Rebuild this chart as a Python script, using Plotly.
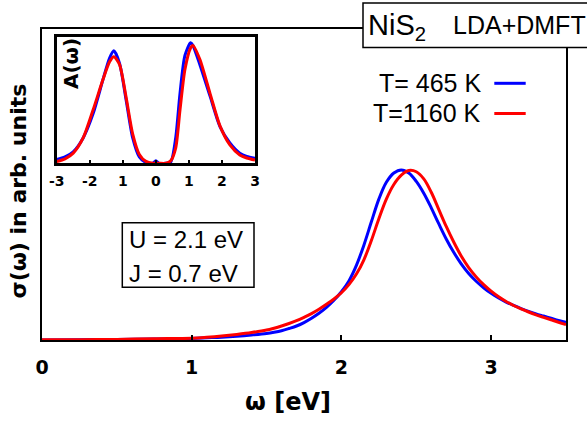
import plotly.graph_objects as go

# ---- main panel data: optical conductivity sigma(omega), arb. units ----
omega = [0.0, 0.25, 0.5, 0.75, 1.0, 1.1, 1.2, 1.3, 1.4,
         1.5, 1.55, 1.6, 1.65, 1.7, 1.75, 1.8, 1.85, 1.9, 1.95,
         2.0, 2.05, 2.1, 2.15, 2.2, 2.25, 2.3, 2.35, 2.4, 2.45,
         2.5, 2.55, 2.6, 2.65, 2.7, 2.75, 2.8, 2.85, 2.9, 2.95,
         3.0, 3.05, 3.1, 3.15, 3.2, 3.25, 3.3, 3.35, 3.4, 3.45, 3.5]
sigma_465 = [0.0, 0.001, 0.002, 0.003, 0.005, 0.007, 0.009, 0.012, 0.016,
             0.021, 0.025, 0.03, 0.037, 0.045, 0.056, 0.07, 0.086, 0.105, 0.128,
             0.155, 0.19, 0.24, 0.305, 0.38, 0.453, 0.507, 0.537, 0.547, 0.537,
             0.51, 0.472, 0.425, 0.374, 0.325, 0.282, 0.245, 0.214, 0.189, 0.168,
             0.15, 0.135, 0.122, 0.111, 0.101, 0.092, 0.084, 0.077, 0.07, 0.063, 0.057]
sigma_1160 = [0.001, 0.001, 0.002, 0.004, 0.006, 0.009, 0.013, 0.018, 0.024,
              0.032, 0.038, 0.045, 0.053, 0.062, 0.073, 0.085, 0.099, 0.115, 0.132,
              0.152, 0.178, 0.212, 0.258, 0.32, 0.39, 0.453, 0.5, 0.53, 0.545,
              0.541, 0.518, 0.475, 0.42, 0.365, 0.315, 0.27, 0.233, 0.203, 0.178,
              0.157, 0.139, 0.124, 0.111, 0.1, 0.09, 0.081, 0.073, 0.065, 0.057, 0.05]
main_ticks = [0, 1, 2, 3]

# ---- inset data: spectral function A(omega) ----
omega_in = [-3.0, -2.75, -2.5, -2.2, -1.9, -1.6, -1.4, -1.27, -1.1, -0.9, -0.7, -0.5, -0.3, -0.1, 0.0,
            0.1, 0.3, 0.45, 0.6, 0.73, 0.88, 1.05, 1.12, 1.33, 1.64, 1.94, 2.24, 2.54, 2.75, 3.0]
A_465 = [0.03, 0.05, 0.09, 0.2, 0.39, 0.66, 0.83, 0.887, 0.79, 0.5, 0.2, 0.05, 0.005, 0.0, 0.02,
         0.0, 0.0, 0.01, 0.2, 0.55, 0.85, 0.95, 0.93, 0.78, 0.53, 0.29, 0.16, 0.08, 0.055, 0.04]
A_1160 = [0.013, 0.035, 0.08, 0.2, 0.42, 0.66, 0.8, 0.84, 0.78, 0.52, 0.23, 0.07, 0.015, 0.0, 0.0,
          0.0, 0.0, 0.02, 0.12, 0.42, 0.74, 0.91, 0.93, 0.82, 0.55, 0.295, 0.145, 0.066, 0.042, 0.026]
inset_tickvals = [-3, -2, -1, 0, 1, 2, 3]
inset_ticktext = ["-3", "-2", "1", "0", "1", "2", "3"]

labels = ["T= 465 K", "T=1160 K"]
BLUE, RED = "#0000ff", "#ff0000"

W, H = 587, 421
L, R, T, B = 42, 21, 29, 81
PW, PH = W - L - R, H - T - B


def px(x):
    return (x - L) / PW


def py(y):
    return (H - B - y) / PH


fig = go.Figure()
fig.add_trace(go.Scatter(x=omega, y=sigma_465, mode="lines", line=dict(color=BLUE, width=3, shape="spline", smoothing=1.0),
                         name=labels[0], showlegend=False))
fig.add_trace(go.Scatter(x=omega, y=sigma_1160, mode="lines", line=dict(color=RED, width=3, shape="spline", smoothing=1.0),
                         name=labels[1], showlegend=False))
fig.add_trace(go.Scatter(x=omega_in, y=A_465, mode="lines", xaxis="x2", yaxis="y2",
                         line=dict(color=BLUE, width=3, shape="spline", smoothing=0.7), showlegend=False))
fig.add_trace(go.Scatter(x=omega_in, y=A_1160, mode="lines", xaxis="x2", yaxis="y2",
                         line=dict(color=RED, width=3, shape="spline", smoothing=0.7), showlegend=False))

bold = dict(family="DejaVu Sans", color="black")
sans = "Liberation Sans"

fig.update_layout(
    width=W, height=H,
    margin=dict(l=L, r=R, t=T, b=B, pad=0),
    paper_bgcolor="white", plot_bgcolor="white",
    xaxis=dict(range=[0, 3.5], showgrid=False, zeroline=False, showline=True, linecolor="black", linewidth=2,
               mirror=True, ticks="inside", ticklen=5, tickwidth=2, tickcolor="black",
               tickvals=main_ticks, ticktext=["<b>%d</b>" % t for t in main_ticks],
               tickfont=dict(size=19, **bold), ticklabelstandoff=9),
    yaxis=dict(range=[0, 1], showgrid=False, zeroline=False, showline=True, linecolor="black", linewidth=2,
               mirror=True, ticks="", showticklabels=False),
    xaxis2=dict(domain=[px(56.7), px(255)], anchor="y2", range=[-3, 3], showgrid=False, zeroline=False,
                showline=True, linecolor="black", linewidth=2.5, mirror=True, ticks="inside", ticklen=4,
                tickwidth=2, tickcolor="black", tickvals=inset_tickvals,
                ticktext=["<b>%s</b>" % t for t in inset_ticktext],
                tickfont=dict(size=14, **bold), ticklabelstandoff=3),
    yaxis2=dict(domain=[py(163.3), py(36.5)], anchor="x2", range=[0, 1.0], showgrid=False, zeroline=False,
                showline=True, linecolor="black", linewidth=2.5, mirror=True, ticks="", showticklabels=False),
    showlegend=False,
)

# title box
fig.add_shape(type="rect", xref="paper", yref="paper", x0=px(363), x1=px(595), y0=py(47.5), y1=py(3),
              line=dict(color="black", width=1.5), fillcolor="white", layer="above")
fig.add_annotation(xref="paper", yref="paper", x=px(366), y=py(27), xanchor="left", yanchor="middle",
                   text="NiS<sub>2</sub>", showarrow=False, font=dict(family=sans, size=29, color="black"))
fig.add_annotation(xref="paper", yref="paper", x=px(451), y=py(24.5), xanchor="left", yanchor="middle",
                   text="LDA+DMFT", showarrow=False, font=dict(family=sans, size=25, color="black"))

# legend (text left, line right)
for lab, col, yc in [(labels[0], BLUE, 83.3), (labels[1], RED, 113.5)]:
    fig.add_annotation(xref="paper", yref="paper", x=px(483), y=py(yc), xanchor="right", yanchor="middle",
                       text=lab, showarrow=False, font=dict(family=sans, size=25, color="black"))
    fig.add_shape(type="line", xref="paper", yref="paper", x0=px(494.3), x1=px(525.7), y0=py(yc), y1=py(yc),
                  line=dict(color=col, width=3))

# U / J box
fig.add_shape(type="rect", xref="paper", yref="paper", x0=px(122.3), x1=px(254), y0=py(287.3), y1=py(222.7),
              line=dict(color="black", width=1.5), fillcolor="rgba(0,0,0,0)")
fig.add_annotation(xref="paper", yref="paper", x=px(127), y=py(239), xanchor="left", yanchor="middle",
                   text="U = 2.1 eV", showarrow=False, font=dict(family=sans, size=24, color="black"))
fig.add_annotation(xref="paper", yref="paper", x=px(127), y=py(273), xanchor="left", yanchor="middle",
                   text="J = 0.7 eV", showarrow=False, font=dict(family=sans, size=24, color="black"))

# axis titles
fig.add_annotation(xref="paper", yref="paper", x=px(288), y=py(402), xanchor="center", yanchor="middle",
                   text="<b>ω [eV]</b>", showarrow=False, font=dict(size=24, **bold))
fig.add_annotation(xref="paper", yref="paper", x=px(18), y=py(191.5), xanchor="center", yanchor="middle",
                   text="<b>σ(ω) in arb. units</b>", textangle=-90, showarrow=False, font=dict(size=22, **bold))
fig.add_annotation(xref="paper", yref="paper", x=px(71), y=py(64), xanchor="center", yanchor="middle",
                   text="<b>A(ω)</b>", textangle=-90, showarrow=False, font=dict(size=20, **bold))

fig.write_html("out.html")
